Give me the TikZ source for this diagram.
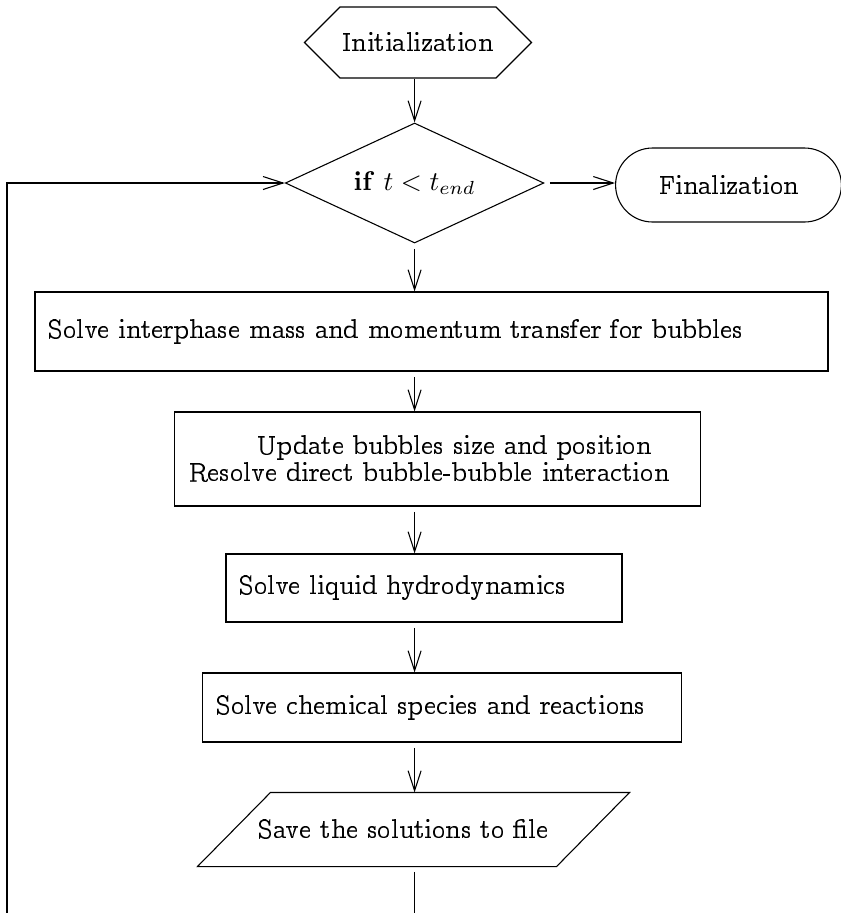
\documentclass[tikz,border=0pt]{standalone}
\usepackage[OT1]{fontenc}
\renewcommand{\rmdefault}{ccr}
\usepackage{tikz}
\usetikzlibrary{shapes.geometric,shapes.misc,shapes.symbols,arrows.meta}

\tikzset{
  flow/.style={-{Straight Barb[length=7.4pt,width=4.8pt]}},
  procbox/.style={draw, rectangle, align=left, inner xsep=0.17cm, minimum height=#1},
}

\begin{document}
\begin{tikzpicture}[x=0.013cm,y=-0.013cm]
\useasboundingbox (0,0) rectangle (841,913);

\node[draw, signal, signal to=west and east, minimum width=2.951cm, minimum height=0.923cm, inner sep=0pt] (init) at (418,42.5) {Initialization};
\node[draw, diamond, aspect=2.15, minimum width=3.3605cm, minimum height=1.56cm, inner sep=0pt] (dia) at (414.6,183) {\textbf{if} $t < t_{end}$};
\node[draw, rounded rectangle, minimum width=3.17cm, minimum height=0.962cm] (fin) at (728.5,185) {Finalization};

\node[procbox=1.027cm, text width=9.969cm] (bubtrans) at (431.5,331.5) {Solve interphase mass and momentum transfer for bubbles};
\node[procbox=1.222cm, text width=6.487cm] (bubmove) at (437.5,459) {\hspace*{0.9cm}Update bubbles size and position\\[-2pt]Resolve direct bubble-bubble interaction};
\node[procbox=0.884cm, text width=4.808cm] (liquid) at (424,588) {Solve liquid hydrodynamics};
\node[procbox=0.897cm, text width=5.876cm] (chem) at (442,707.5) {Solve chemical species and reactions};
\node[rectangle, minimum width=4.654cm, minimum height=0.949cm, inner sep=0pt] (save) at (413.5,829.5) {Save the solutions to file\hspace*{0.26cm}};
% slanted outline of the output box
\draw ([xshift=0.4745cm]save.north west) -- ([xshift=0.4745cm]save.north east)
  -- ([xshift=-0.4745cm]save.south east) -- ([xshift=-0.4745cm]save.south west) -- cycle;

\coordinate (outbot) at (414.6,913);
\coordinate (backbot) at (7,913);

\draw[flow] (init.south -| dia.north) -- (dia.north);
\draw[flow, shorten <=2pt] (dia.east) -- (dia.east -| fin.west);
\foreach \a/\b in {dia/bubtrans, bubtrans/bubmove, bubmove/liquid, liquid/chem, chem/save}
  \draw[flow, shorten <=2pt] (\a.south -| dia.south) -- (\b.north -| dia.south);
\draw[shorten <=2pt] (save.south -| dia.south) -- (outbot);
\draw[flow] (backbot) |- (dia.west);
\end{tikzpicture}
\end{document}
